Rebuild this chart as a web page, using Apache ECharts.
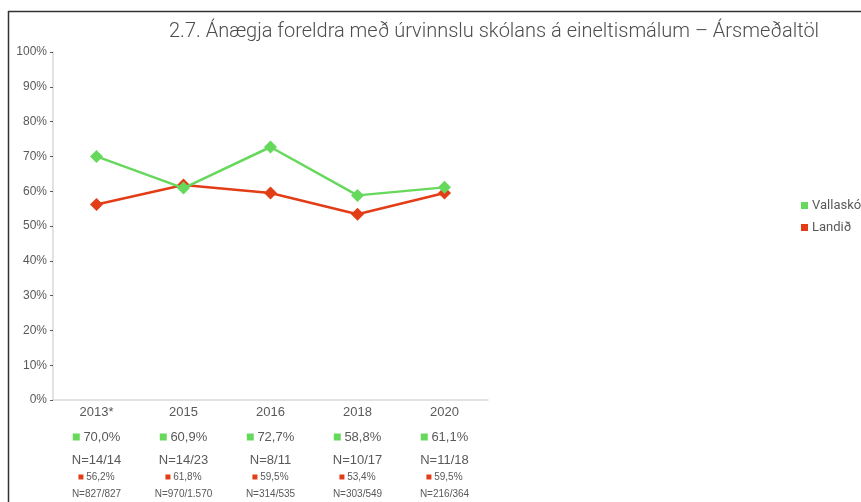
<!DOCTYPE html>
<html><head><meta charset="utf-8">
<script src="https://cdn.jsdelivr.net/npm/echarts@6/dist/echarts.min.js"></script>
<style>html,body{margin:0;padding:0;background:#fff}#c{width:861px;height:502px}</style>
</head><body><div id="c"></div>
<script>
const categories = ['2013*', '2015', '2016', '2018', '2020'];
const vallaskoli = [70.0, 60.9, 72.7, 58.8, 61.1];
const landid = [56.2, 61.8, 59.5, 53.4, 59.5];
const nVallaskoli = ['N=14/14', 'N=14/23', 'N=8/11', 'N=10/17', 'N=11/18'];
const nLandid = ['N=827/827', 'N=970/1.570', 'N=314/535', 'N=303/549', 'N=216/364'];
const seriesNames = ['Vallaskóli', 'Landið'];
const titleText = '2.7. Ánægja foreldra með úrvinnslu skólans á eineltismálum – Ársmeðaltöl';

const GREEN = '#66d95c', RED = '#e23d17', TXT = '#595959';
const fmt = v => v.toFixed(1).replace('.', ',') + '%';

const chart = echarts.init(document.getElementById('c'));
chart.setOption({
  backgroundColor: '#fff',
  animation: false,
  title: {
    text: titleText, left: 164, top: 17,
    textStyle: { fontFamily: 'Roboto', fontSize: 20, fontWeight: 300, color: '#4d4d4d' }
  },
  legend: {
    orient: 'vertical', left: 801, top: 199, padding: 0, itemWidth: 7, itemHeight: 7, itemGap: 9,
    icon: 'rect',
    textStyle: { fontFamily: 'Roboto', fontSize: 13, color: TXT, padding: [0,0,0,-1] },
    data: seriesNames
  },
  grid: { left: 53, right: 373, top: 52, bottom: 102 },
  xAxis: {
    type: 'category', data: categories, boundaryGap: true,
    axisLine: { lineStyle: { color: '#d9d9d9', width: 1.5 } },
    axisTick: { show: false },
    axisLabel: {
      margin: 2, interval: 0,
      formatter: (val, idx) =>
        '{y|' + val + '}\n' +
        '{gs|}{gv| ' + fmt(vallaskoli[idx]) + '}\n' +
        '{n|' + nVallaskoli[idx] + '}\n' +
        '{rs|}{rv| ' + fmt(landid[idx]) + '}\n' +
        '{rn|' + nLandid[idx] + '}',
      rich: {
        y: { fontFamily: 'Liberation Sans', fontSize: 13, color: TXT, lineHeight: 20 },
        gs: { width: 7, height: 7, backgroundColor: GREEN, lineHeight: 30 },
        gv: { fontFamily: 'Liberation Sans', fontSize: 13, color: TXT, lineHeight: 30 },
        n: { fontFamily: 'Liberation Sans', fontSize: 13, color: TXT, lineHeight: 16 },
        rs: { width: 5, height: 5, backgroundColor: RED, lineHeight: 18 },
        rv: { fontFamily: 'Liberation Sans', fontSize: 10, color: TXT, lineHeight: 18 },
        rn: { fontFamily: 'Liberation Sans', fontSize: 10, color: TXT, lineHeight: 16 }
      }
    }
  },
  yAxis: {
    type: 'value', min: 0, max: 100, interval: 10,
    axisLine: { show: true, lineStyle: { color: '#d9d9d9', width: 1.5 } },
    axisTick: { show: true, length: 3, lineStyle: { color: '#595959' } },
    splitLine: { show: false },
    axisLabel: { formatter: '{value}%', fontFamily: 'Liberation Sans', fontSize: 12, color: TXT, margin: 6 }
  },
  series: [
    {
      name: seriesNames[1], type: 'line', data: landid, z: 2,
      symbol: 'diamond', symbolSize: 13,
      lineStyle: { color: RED, width: 2.5 }, itemStyle: { color: RED }
    },
    {
      name: seriesNames[0], type: 'line', data: vallaskoli, z: 3,
      symbol: 'diamond', symbolSize: 13,
      lineStyle: { color: GREEN, width: 2.5 }, itemStyle: { color: GREEN }
    }
  ],
  graphic: [
    { type: 'line', shape: { x1: 8, y1: 11.5, x2: 861, y2: 11.5 }, style: { stroke: '#333', lineWidth: 1.5 } },
    { type: 'line', shape: { x1: 8.5, y1: 11, x2: 8.5, y2: 502 }, style: { stroke: '#333', lineWidth: 1.5 } }
  ]
});
</script></body></html>
